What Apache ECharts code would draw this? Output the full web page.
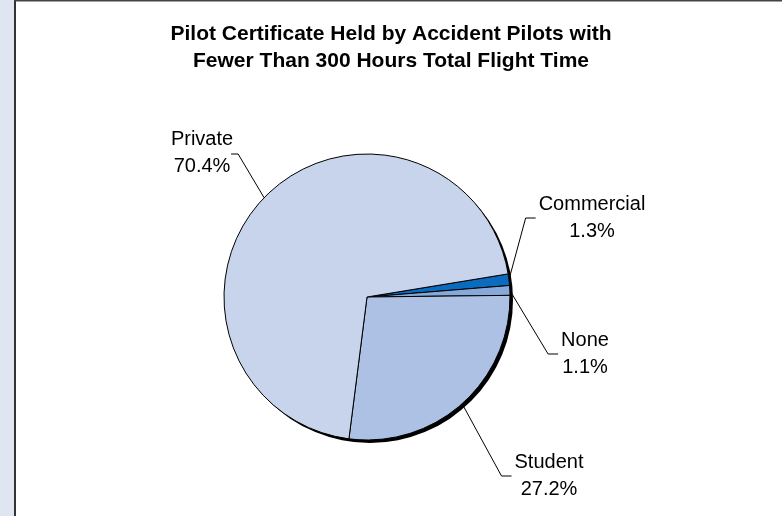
<!DOCTYPE html>
<html>
<head>
<meta charset="utf-8">
<script src="https://cdn.jsdelivr.net/npm/echarts@6/dist/echarts.min.js"></script>
<style>
html,body{margin:0;padding:0;background:#fff;}
#main{width:782px;height:516px;}
</style>
</head>
<body>
<div id="main"></div>
<script>
// Data (clockwise order starting at the startAngle)
var categories = ['Commercial', 'None', 'Student', 'Private'];
var shares = [1.3, 1.1, 27.2, 70.4];
var titleLines = ['Pilot Certificate Held by Accident Pilots with', 'Fewer Than 300 Hours Total Flight Time'];

// Styles
var sliceColors = ['#0b6bbf', '#86a9d9', '#adc1e4', '#c7d4ec'];
var labelPos = { Commercial: [592, 218], None: [585, 354], Student: [549, 476], Private: [202, 153] };

var chart = echarts.init(document.getElementById('main'), null, { renderer: 'canvas' });

var pieData = categories.map(function (c, i) {
  return { name: c, value: shares[i], itemStyle: { color: sliceColors[i] } };
});

chart.setOption({
  backgroundColor: '#ffffff',
  animation: false,
  title: {
    text: titleLines.join('\n'),
    left: 'center',
    top: 16,
    textStyle: { fontFamily: 'Liberation Sans, Arial, sans-serif', fontWeight: 'bold', fontSize: 21, lineHeight: 27, color: '#000' }
  },
  graphic: [
    { type: 'rect', shape: { x: 0, y: 0, width: 14, height: 516 }, style: { fill: '#dfe6f2' }, silent: true, z: 100 },
    { type: 'line', shape: { x1: 15, y1: 0, x2: 15, y2: 516 }, style: { stroke: '#333', lineWidth: 2 }, silent: true, z: 100 },
    { type: 'line', shape: { x1: 14, y1: 0.75, x2: 782, y2: 0.75 }, style: { stroke: '#444', lineWidth: 1.5 }, silent: true, z: 100 }
  ],
  series: [
    {
      type: 'pie',
      silent: true,
      center: [370, 300],
      radius: 143,
      z: 1,
      label: { show: false },
      labelLine: { show: false },
      itemStyle: { color: '#000' },
      data: [{ name: 'shadow', value: 100 }]
    },
    {
      type: 'pie',
      center: [367, 297],
      radius: 143,
      startAngle: 9.3,
      clockwise: true,
      z: 2,
      avoidLabelOverlap: false,
      itemStyle: { borderColor: '#000', borderWidth: 1 },
      label: {
        show: true,
        position: 'outside',
        formatter: function (p) { return p.name + '\n' + p.value.toFixed(1) + '%'; },
        fontFamily: 'Liberation Sans, Arial, sans-serif',
        fontSize: 20,
        lineHeight: 27,
        color: '#000',
        align: 'center'
      },
      labelLine: { show: true, length: 20, length2: 10, smooth: false, lineStyle: { color: '#000', width: 1 } },
      labelLayout: function (params) {
        var name = categories[params.dataIndex];
        var pos = labelPos[name];
        var w = params.labelRect.width;
        var edge = params.labelLinePoints ? params.labelLinePoints[0] : [pos[0], pos[1]];
        var pts;
        if (pos[0] < 367) {
          var right = pos[0] + w / 2 - 2;
          pts = [edge, [right + 7, pos[1] + 1], [right, pos[1] + 1]];
        } else {
          var left = pos[0] - w / 2 - 3;
          pts = [edge, [left - 10, pos[1]], [left, pos[1]]];
        }
        return { x: pos[0], y: pos[1], align: 'center', verticalAlign: 'middle', labelLinePoints: pts };
      },
      data: pieData
    }
  ]
});
</script>
</body>
</html>
